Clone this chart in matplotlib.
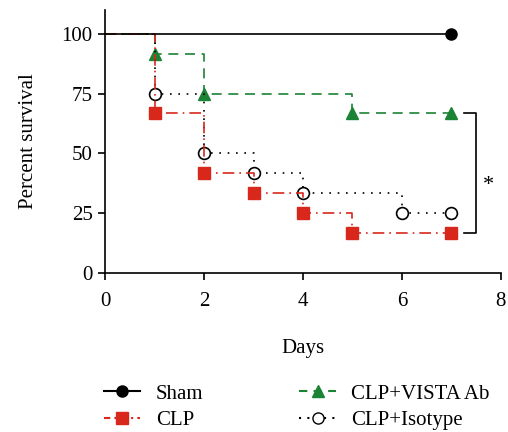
import matplotlib.pyplot as plt
import numpy as np

plt.rcParams['font.family'] = ['Liberation Serif', 'DejaVu Serif']

# Kaplan-Meier survival data (day, percent survival)
sham_days = [0, 7]
sham_surv = [100, 100]
sham_mark_days = [7]
sham_mark_surv = [100]

clp_days = [0, 1, 2, 3, 4, 5, 7]
clp_surv = [100, 66.7, 41.7, 33.3, 25, 16.7, 16.7]

vista_days = [0, 1, 2, 5, 7]
vista_surv = [100, 91.7, 75, 66.7, 66.7]

iso_days = [0, 1, 2, 3, 4, 6, 7]
iso_surv = [100, 75, 50, 41.7, 33.3, 25, 25]

fig = plt.figure(figsize=(5.08, 4.32), dpi=100)
ax = fig.add_axes([0.207, 0.368, 0.779, 0.609])

red = '#d8281c'
green = '#1b8334'

ax.step(sham_days, sham_surv, where='post', color='black', lw=1.2, zorder=3)
ax.plot(sham_mark_days, sham_mark_surv, 'o', color='black', ms=8, zorder=4)

ax.step(vista_days, vista_surv, where='post', color=green, lw=1.2, ls=(0, (6, 4)))
ax.plot(vista_days[1:], vista_surv[1:], '^', color=green, ms=8.5)

ax.step(iso_days, iso_surv, where='post', color='black', lw=1.2, ls=(0, (1, 4)))
ax.plot(iso_days[1:], iso_surv[1:], 'o', mfc='white', mec='black', mew=1.2, ms=8.5)

ax.step(clp_days, clp_surv, where='post', color=red, lw=1.2, ls=(0, (7, 3, 1, 3)))
ax.plot(clp_days[1:], clp_surv[1:], 's', color=red, ms=8.5)

# legend proxies
ax.plot([], [], '-o', color='black', ms=8, label='Sham')
ax.plot([], [], marker='s', color=red, ls=(0, (3, 2, 1, 2)), ms=8.5, label='CLP')
ax.plot([], [], marker='^', color=green, ls=(0, (4, 3)), ms=8, label='CLP+VISTA Ab')
ax.plot([], [], marker='o', color='black', mfc='white', ls=(0, (1, 3)), ms=8, label='CLP+Isotype')
h, l = ax.get_legend_handles_labels()
fig.legend(h, l, loc='upper left', bbox_to_anchor=(104 / 508, 1 - 384 / 432), ncol=2,
           frameon=False, fontsize=15, columnspacing=4.6, handlelength=1.75,
           handletextpad=0.75, labelspacing=0.35, borderpad=0, borderaxespad=0)

# significance bracket
ax.plot([7.25, 7.5, 7.5, 7.25], [66.7, 66.7, 16.7, 16.7], color='black', lw=1.2,
        clip_on=False)
ax.text(7.74, 36.5, '*', fontsize=16, ha='center', va='center')

ax.set_xlim(0, 8)
ax.set_ylim(0, 110)
ax.set_xticks([0, 2, 4, 6, 8])
ax.set_yticks([0, 25, 50, 75, 100])
ax.spines['top'].set_visible(False)
ax.spines['right'].set_visible(False)
ax.spines['left'].set_linewidth(1.2)
ax.spines['bottom'].set_linewidth(1.2)
ax.tick_params(labelsize=15, width=1.2, length=5)
ax.tick_params(axis='x', pad=9)
ax.tick_params(axis='y', pad=4)
ax.set_xlabel('Days', fontsize=15, labelpad=20)
ax.set_ylabel('Percent survival', fontsize=15, labelpad=17)

fig.savefig('out.png', dpi=100)
